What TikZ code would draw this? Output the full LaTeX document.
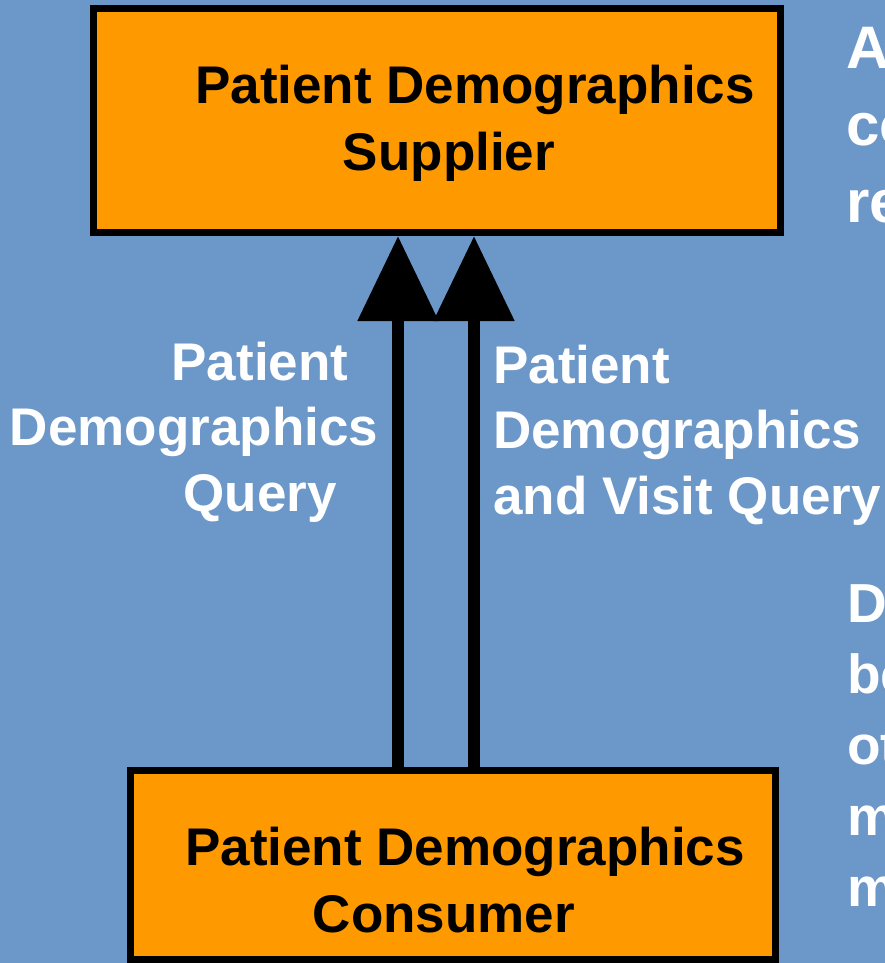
\documentclass[tikz,border=0pt]{standalone}
\usepackage{fontspec}
\setmainfont{Liberation Sans}
\usetikzlibrary{arrows.meta}
\definecolor{slide}{RGB}{108,151,201}
\definecolor{actor}{RGB}{255,153,0}
\tikzset{
  actorbox/.style={draw=black,fill=actor,line width=7bp,inner sep=0pt},
  boxtext/.style={font=\fontsize{53bp}{67bp}\selectfont\bfseries,align=center,inner sep=0pt,anchor=base},
  txlabel/.style={font=\fontsize{53bp}{65.5bp}\selectfont\bfseries,text=white,inner sep=0pt,anchor=base},
  txflow/.style={line width=12bp,-{Triangle[length=85bp,width=78bp]}}
}
\begin{document}
\begin{tikzpicture}[x=1bp,y=-1bp]
  \useasboundingbox (0,0) rectangle (885,963);
  \clip (0,0) rectangle (885,963);
  \fill[slide] (0,0) rectangle (885,963);
  % actors
  \node[actorbox,minimum width=687bp,minimum height=224bp] (sup) at (437,120.5) {};
  \node[actorbox,minimum width=645bp,minimum height=189bp] (con) at (453,865) {};
  \node[boxtext] (suptext) at (462,170) {\hspace*{26bp}Patient Demographics\\Supplier\hspace*{26bp}};
  \node[boxtext] (context) at (454.5,932) {\hspace*{21bp}Patient Demographics\\Consumer\hspace*{21bp}};
  % transactions
  \coordinate (qa) at (398,0);
  \coordinate (qb) at (474,0);
  \draw[txflow] (con.north -| qa) -- (sup.south -| qa);
  \draw[txflow] (con.north -| qb) -- (sup.south -| qb);
  \node[txlabel,align=center] (qalabel) at (260,511) {Patient\\Demographics\hspace*{132bp}\null\\Query};
  \node[txlabel,align=left,anchor=base west] (qblabel) at (493,514) {Patient\\Demographics\\and Visit Query};
  % text cut off at the right edge
  \node[txlabel,align=left,anchor=base west,font=\fontsize{60bp}{77bp}\selectfont\bfseries] (notea) at (846,222) {A\\co\\re};
  \node[txlabel,align=left,anchor=base west,font=\fontsize{55bp}{71bp}\selectfont\bfseries] (noteb) at (847,906) {D\\be\\ot\\m\\m};
\end{tikzpicture}
\end{document}
